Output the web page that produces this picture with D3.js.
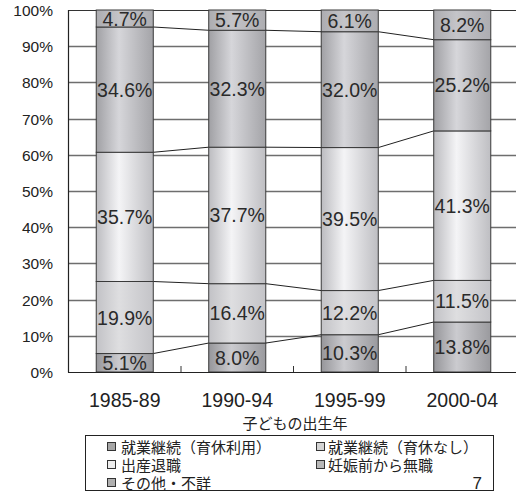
<!DOCTYPE html>
<html><head><meta charset="utf-8">
<script src="https://cdn.jsdelivr.net/npm/d3@7"></script>
<style>body{margin:0;background:#fff}svg{display:block}</style>
</head><body><svg id="c" width="516" height="493"></svg>
<script>
const categories = ["1985-89", "1990-94", "1995-99", "2000-04"];
const seriesNames = ["就業継続（育休利用）", "就業継続（育休なし）", "出産退職", "妊娠前から無職", "その他・不詳"];
const s1 = [5.1, 8.0, 10.3, 13.8];
const s2 = [19.9, 16.4, 12.2, 11.5];
const s3 = [35.7, 37.7, 39.5, 41.3];
const s4 = [34.6, 32.3, 32.0, 25.2];
const s5 = [4.7, 5.7, 6.1, 8.2];
const yTicks = [0, 10, 20, 30, 40, 50, 60, 70, 80, 90, 100];
const xTitle = "子どもの出生年";
const pageNo = "7";

// gradient colours per series: [edge, light, edge-right]
const grads = [
  ["#96969a", "#cbcbcf", "#9a9a9e"],
  ["#c2c2c6", "#dedee0", "#c4c4c8"],
  ["#bcbcc0", "#f4f4f6", "#bebec2"],
  ["#a0a0a4", "#d6d6da", "#a4a4a8"],
  ["#acacb0", "#c4c4c8", "#adadb1"]
];
const legendFill = ["#a6a6a6", "#d4d4d4", "#eeeeee", "#b8b8b8", "#b0b0b0"];

const seriesData = [s1, s2, s3, s4, s5];
const rows = categories.map((c, i) => {
  const o = {cat: c};
  seriesNames.forEach((n, k) => o[n] = seriesData[k][i]);
  return o;
});

const svg = d3.select("#c");
const x = d3.scaleBand().domain(categories).range([68.5, 518.5]).paddingInner(0.493).paddingOuter(0.2465);
const y = d3.scaleLinear().domain([0, 100]).range([372, 10]);
const bw = x.bandwidth();

const defs = svg.append("defs");
grads.forEach((g, k) => {
  const lg = defs.append("linearGradient").attr("id", "g" + k).attr("x1", 0).attr("x2", 1).attr("y1", 0).attr("y2", 0);
  lg.append("stop").attr("offset", "0%").attr("stop-color", g[0]);
  lg.append("stop").attr("offset", "40%").attr("stop-color", g[1]);
  lg.append("stop").attr("offset", "100%").attr("stop-color", g[2]);
});

// gridlines
svg.append("g").selectAll("line").data(yTicks.filter(t => t > 0)).join("line")
  .attr("x1", 68.5).attr("x2", 516).attr("y1", d => Math.round(y(d)) + 0.5).attr("y2", d => Math.round(y(d)) + 0.5)
  .attr("stroke", d => d === 100 ? "#333" : "#6e6e6e").attr("stroke-width", d => d === 100 ? 1.2 : 1.6);

const stack = d3.stack().keys(seriesNames)(rows);
const cy = v => Math.max(y(v), y(100));

// connector lines
for (let k = 0; k < 4; k++) {
  const layer = stack[k];
  for (let i = 0; i < categories.length - 1; i++) {
    svg.append("line")
      .attr("x1", x(categories[i]) + bw).attr("y1", cy(layer[i][1]))
      .attr("x2", x(categories[i + 1])).attr("y2", cy(layer[i + 1][1]))
      .attr("stroke", "#222").attr("stroke-width", 1);
  }
}

// bars
const gBars = svg.append("g");
stack.forEach((layer, k) => {
  gBars.selectAll(null).data(layer).join("rect")
    .attr("x", d => x(d.data.cat)).attr("width", bw)
    .attr("y", d => cy(d[1])).attr("height", d => cy(d[0]) - cy(d[1]))
    .attr("fill", "url(#g" + k + ")").attr("stroke", "#3a3a3a").attr("stroke-width", 1);
});
stack.forEach((layer, k) => {
  gBars.selectAll(null).data(layer).join("text")
    .attr("x", d => x(d.data.cat) + bw / 2)
    .attr("y", d => (cy(d[0]) + cy(d[1])) / 2 + 7)
    .attr("text-anchor", "middle")
    .attr("font-family", "Liberation Sans, Arial, sans-serif").attr("font-size", 19.5)
    .attr("fill", "#2a2a2a")
    .text(d => (d[1] - d[0]).toFixed(1) + "%");
});

// axes lines
svg.append("line").attr("x1", 68.5).attr("x2", 68.5).attr("y1", 10).attr("y2", 372.5).attr("stroke", "#222").attr("stroke-width", 1.2);
svg.append("line").attr("x1", 68).attr("x2", 516).attr("y1", 372.5).attr("y2", 372.5).attr("stroke", "#222").attr("stroke-width", 1.2);
// inward ticks between categories
svg.append("g").selectAll("line").data(categories.slice(1)).join("line")
  .attr("x1", d => x(d) - x.step() * x.paddingInner() / 2).attr("x2", d => x(d) - x.step() * x.paddingInner() / 2)
  .attr("y1", 366).attr("y2", 372).attr("stroke", "#333");

// y tick labels
svg.append("g").selectAll("text").data(yTicks).join("text")
  .attr("x", 53).attr("y", d => y(d) + 6).attr("text-anchor", "end")
  .attr("font-family", "Liberation Sans, Arial, sans-serif").attr("font-size", 15.5).attr("fill", "#222")
  .text(d => d + "%");

// x tick labels
svg.append("g").selectAll("text").data(categories).join("text")
  .attr("x", d => x(d) + bw / 2).attr("y", 407).attr("text-anchor", "middle")
  .attr("font-family", "Liberation Sans, Arial, sans-serif").attr("font-size", 19.5).attr("fill", "#222")
  .text(d => d);

svg.append("text").attr("x", 295).attr("y", 429).attr("text-anchor", "middle")
  .attr("font-family", "Noto Sans CJK JP, sans-serif").attr("font-size", 15).attr("fill", "#222").text(xTitle);

// legend
svg.append("rect").attr("x", 85.5).attr("y", 435.5).attr("width", 408).attr("height", 55)
  .attr("fill", "none").attr("stroke", "#222").attr("stroke-width", 1);
const lg = svg.append("g");
seriesNames.forEach((n, k) => {
  const col = k % 2, row = Math.floor(k / 2);
  const mx = col === 0 ? 107 : 316, tx = col === 0 ? 121 : 328;
  const ry = 447 + row * 18;
  lg.append("rect").attr("x", mx + 0.5).attr("y", ry - 4.5).attr("width", 8).attr("height", 8)
    .attr("fill", legendFill[k]).attr("stroke", "#333").attr("stroke-width", 1);
  lg.append("text").attr("x", tx).attr("y", ry + 5.5)
    .attr("font-family", "Noto Sans CJK JP, sans-serif").attr("font-size", 15).attr("fill", "#222").text(n);
});
svg.append("text").attr("x", 482).attr("y", 489).attr("text-anchor", "end")
  .attr("font-family", "Liberation Sans, Arial, sans-serif").attr("font-size", 17).attr("fill", "#222").text(pageNo);
</script></body></html>
